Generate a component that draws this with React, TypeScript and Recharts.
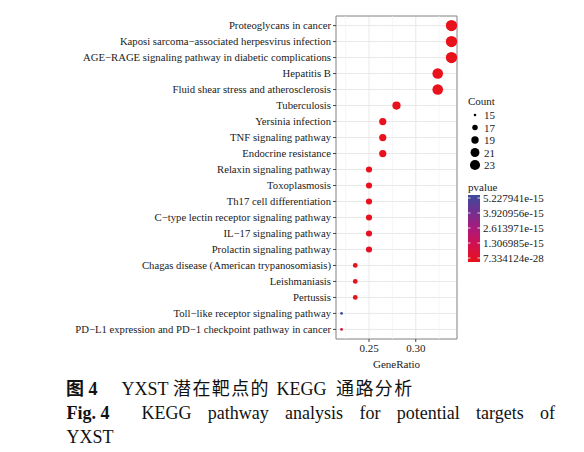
import React from 'react';
import {
  ScatterChart,
  Scatter,
  XAxis,
  YAxis,
  ZAxis,
  CartesianGrid,
  ReferenceLine,
  ReferenceArea,
  Cell,
} from 'recharts';

const pathways = [
  'Proteoglycans in cancer',
  'Kaposi sarcoma\u2212associated herpesvirus infection',
  'AGE\u2212RAGE signaling pathway in diabetic complications',
  'Hepatitis B',
  'Fluid shear stress and atherosclerosis',
  'Tuberculosis',
  'Yersinia infection',
  'TNF signaling pathway',
  'Endocrine resistance',
  'Relaxin signaling pathway',
  'Toxoplasmosis',
  'Th17 cell differentiation',
  'C\u2212type lectin receptor signaling pathway',
  'IL\u221217 signaling pathway',
  'Prolactin signaling pathway',
  'Chagas disease (American trypanosomiasis)',
  'Leishmaniasis',
  'Pertussis',
  'Toll\u2212like receptor signaling pathway',
  'PD\u2212L1 expression and PD\u22121 checkpoint pathway in cancer',
];

const counts = [23, 23, 23, 22, 22, 19, 18, 18, 18, 17, 17, 17, 17, 17, 17, 16, 16, 16, 15, 15];

const geneRatios = [
  0.3382, 0.3382, 0.3382, 0.3235, 0.3235, 0.2794, 0.2647, 0.2647, 0.2647, 0.25,
  0.25, 0.25, 0.25, 0.25, 0.25, 0.2353, 0.2353, 0.2353, 0.2206, 0.2206,
];

const pvalues = [
  7.334124e-28, 2.1e-27, 5.6e-27, 1.4e-25, 3.9e-24, 2.2e-21, 6.8e-20, 1.5e-19, 4.1e-19, 9.7e-18,
  2.3e-17, 5.8e-17, 1.1e-16, 1.9e-16, 2.6e-16, 3.4e-17, 6.2e-17, 1.3e-16, 5.227941e-15, 8.1e-16,
];

const xTicks = [0.25, 0.3];
const xMinor = [0.225, 0.275, 0.325];
const countBreaks = [15, 17, 19, 21, 23];
const pvalueLabels = ['5.227941e-15', '3.920956e-15', '2.613971e-15', '1.306985e-15', '7.334124e-28'];

const FONT = "'Liberation Serif', 'Times New Roman', serif";
const CJK = "'Liberation Serif', 'Noto Sans CJK SC', serif";

// low pvalue -> red, high -> blue
const gradStops = ['#e8111c', '#d2104c', '#aa1a7c', '#72308f', '#3b4b9c'];

const hex = (c: string) => [1, 3, 5].map((i) => parseInt(c.slice(i, i + 2), 16));
const colorAt = (t: number) => {
  const s = Math.max(0, Math.min(1, t)) * (gradStops.length - 1);
  const i = Math.min(Math.floor(s), gradStops.length - 2);
  const f = s - i;
  const a = hex(gradStops[i]);
  const b = hex(gradStops[i + 1]);
  return `rgb(${a.map((v, k) => Math.round(v + (b[k] - v) * f)).join(',')})`;
};

const pMin = Math.min(...pvalues);
const pMax = Math.max(...pvalues);

const data = pathways.map((name, i) => ({
  name,
  row: i + 1,
  ratio: geneRatios[i],
  count: counts[i],
  pvalue: pvalues[i],
}));

const Z_RANGE: [number, number] = [6, 100];
const areaFor = (c: number) => Z_RANGE[0] + ((Z_RANGE[1] - Z_RANGE[0]) * (c - 15)) / 8;

// plain single-line tick so long pathway names don't wrap
const PathTick = (props: any) => {
  const { x, y, payload } = props;
  return (
    <text x={x} y={y} dy="0.355em" textAnchor="end" fontSize={10.7} fontFamily={FONT} fill="#1a1a1a">
      {pathways[payload.value - 1]}
    </text>
  );
};

const Legends = () => {
  const barTop = 195;
  const barBottom = 262;
  const tickYs = [198, 213, 228, 243, 258];
  return (
    <svg width={584} height={452} style={{ position: 'absolute', left: 0, top: 0, pointerEvents: 'none' }}>
      <defs>
        <linearGradient id="pgrad" x1="0" y1="1" x2="0" y2="0">
          {gradStops.map((c, i) => (
            <stop key={i} offset={`${(i / (gradStops.length - 1)) * 100}%`} stopColor={c} />
          ))}
        </linearGradient>
      </defs>
      <g fontFamily={FONT} fontSize={11} fill="#1a1a1a">
        <text x={468} y={101} dominantBaseline="central">Count</text>
        {countBreaks.map((c, i) => {
          const y = 115 + i * 12.5;
          const r = Math.sqrt(areaFor(c) / Math.PI) * 0.9;
          return (
            <g key={c}>
              <circle cx={475} cy={y} r={r} fill="#000" />
              <text x={484} y={y} dominantBaseline="central">{c}</text>
            </g>
          );
        })}
        <text x={468} y={187} dominantBaseline="central">pvalue</text>
        <rect x={468} y={barTop} width={12} height={barBottom - barTop} fill="url(#pgrad)" />
        {tickYs.map((y, i) => (
          <g key={i}>
            <line x1={468} x2={470.5} y1={y} y2={y} stroke="#fff" strokeWidth={0.8} />
            <line x1={477.5} x2={480} y1={y} y2={y} stroke="#fff" strokeWidth={0.8} />
            <text x={483} y={y} dominantBaseline="central">{pvalueLabels[i]}</text>
          </g>
        ))}
      </g>
    </svg>
  );
};

const Caption = () => {
  const base: React.CSSProperties = {
    position: 'absolute',
    fontSize: 18,
    lineHeight: '18px',
    color: '#111',
    whiteSpace: 'nowrap',
    fontFamily: CJK,
  };
  return (
    <>
      <span style={{ ...base, left: 66, top: 380, fontWeight: 'bold' }}>图 4</span>
      <span style={{ ...base, left: 121.5, top: 380 }}>YXST</span>
      <span style={{ ...base, left: 173, top: 380, letterSpacing: 1.4 }}>潜在靶点的</span>
      <span style={{ ...base, left: 276.5, top: 380 }}>KEGG</span>
      <span style={{ ...base, left: 336, top: 380, letterSpacing: 1.4 }}>通路分析</span>
      <span style={{ ...base, left: 66.5, top: 404, fontWeight: 'bold' }}>Fig. 4</span>
      <div
        style={{
          ...base,
          left: 141.5,
          top: 404,
          width: 413.5,
          whiteSpace: 'normal',
          textAlign: 'justify',
          textAlignLast: 'justify',
        }}
      >
        KEGG pathway analysis for potential targets of
      </div>
      <span style={{ ...base, left: 66.5, top: 428 }}>YXST</span>
    </>
  );
};

export default function App() {
  const xDomain: [number, number] = [0.2147, 0.3441];
  const yDomain: [number, number] = [0.4, 20.6];
  return (
    <div style={{ position: 'absolute', left: 0, top: 0, width: 584, height: 452, background: '#fff' }}>
      <ScatterChart width={584} height={452} margin={{ top: 16, right: 127, bottom: 84, left: 0 }}>
        <CartesianGrid stroke="#e8e8e8" strokeWidth={1} />
        {xMinor.map((v) => (
          <ReferenceLine key={v} x={v} stroke="#f1f1f1" strokeWidth={0.7} />
        ))}
        <XAxis
          type="number"
          dataKey="ratio"
          domain={xDomain}
          allowDataOverflow
          ticks={xTicks}
          tickFormatter={(v: number) => v.toFixed(2)}
          axisLine={false}
          tickSize={3}
          tickMargin={2}
          tickLine={{ stroke: '#444' }}
          tick={{ fontSize: 11, fontFamily: FONT, fill: '#1a1a1a' }}
          height={29}
          label={{ value: 'GeneRatio', position: 'insideBottom', offset: 0, fontSize: 11, fontFamily: FONT, fill: '#1a1a1a' }}
        />
        <YAxis
          type="number"
          dataKey="row"
          domain={yDomain}
          allowDataOverflow
          reversed
          ticks={pathways.map((_, i) => i + 1)}
          interval={0}
          axisLine={false}
          tickSize={3}
          tickMargin={2}
          tickLine={{ stroke: '#444' }}
          tick={<PathTick />}
          width={336}
        />
        <ZAxis type="number" dataKey="count" domain={[15, 23]} range={Z_RANGE} />
        <ReferenceArea
          x1={xDomain[0]}
          x2={xDomain[1]}
          y1={yDomain[0]}
          y2={yDomain[1]}
          fill="none"
          fillOpacity={0}
          stroke="#8c8c8c"
          strokeWidth={1}
        />
        <Scatter data={data} isAnimationActive={false}>
          {data.map((d, i) => (
            <Cell key={i} fill={colorAt((d.pvalue - pMin) / (pMax - pMin))} />
          ))}
        </Scatter>
      </ScatterChart>
      <Legends />
      <Caption />
    </div>
  );
}
